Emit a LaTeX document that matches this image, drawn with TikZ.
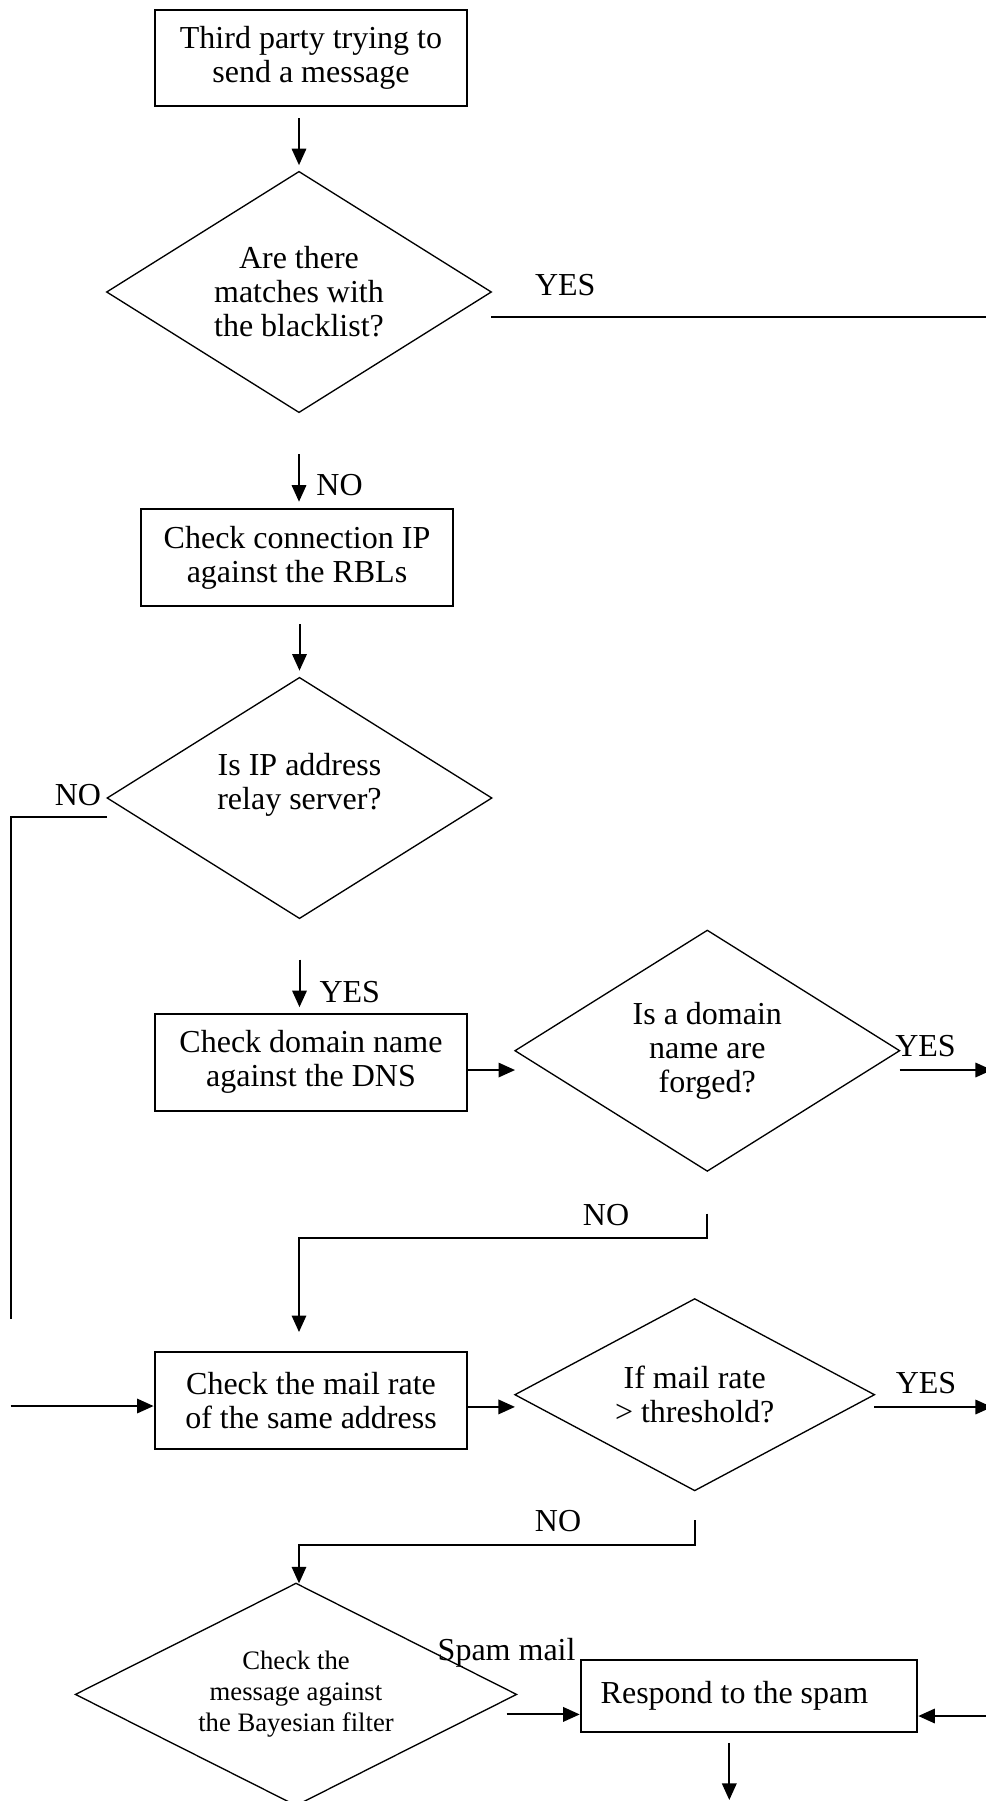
\documentclass[tikz,border=0pt]{standalone}
\usepackage{fontspec}
\setmainfont{Liberation Serif}
\usetikzlibrary{shapes.geometric,arrows.meta}
\tikzset{
	box/.style={draw, line width=.75pt, minimum width=117.3pt, minimum height=36.2pt, inner sep=0pt, align=center, font=\fontsize{12}{12.75}\selectfont},
	decision/.style={draw, diamond, line width=.5pt, inner sep=0pt, outer sep=0pt, shape aspect=1.6, minimum width=144.2pt, minimum height=90.3pt, align=center, font=\fontsize{12}{12.75}\selectfont},
	answer/.style={inner sep=0pt, anchor=base, font=\fontsize{12}{12.75}\selectfont},
	conn/.style={line width=.75pt},
	arr/.style={conn, -{Triangle[length=6.2pt, width=5.4pt]}}
}

\begin{document}
\begin{tikzpicture}[x=.375pt, y=-.375pt]
		\useasboundingbox (0,0) rectangle (985,1801);
		\node[box] (start) at (311,58) {Third party trying to\\send a message};
		\node[decision] (blacklist) at (299,292) {Are there\\matches with\\the blacklist?};
		\node[box] (rbl) at (297,557.4) {Check connection IP\\against the RBLs};
		\node[decision] (relay) at (299.5,798) {Is IP address\\relay server?\\~};
		\node[box] (dns) at (311,1062.3) {Check domain name\\against the DNS};
		\node[decision] (forged) at (707.3,1050.7) {Is a domain\\name are\\forged?};
		\node[box] (rate) at (311,1400.5) {Check the mail rate\\of the same address};
		\node[decision, shape aspect=1.87, minimum width=134.8pt, minimum height=71.9pt] (threshold) at (694.7,1394.7) {If mail rate\\> threshold?};
		\node[decision, shape aspect=2, minimum width=165.4pt, minimum height=83.3pt, font=\fontsize{10}{11.6}\selectfont] (bayes) at (296,1694.4) {Check the\\message against\\the Bayesian filter};
		\node[box, minimum width=0pt, minimum height=26.9pt, inner xsep=7.5pt, text width=111.2pt, align=flush left] (respond) at (749,1696) {Respond to the spam};
		\node[answer] (yes1) at (565.3,295.5) {YES};
		\node[answer] (no1) at (339.5,495) {NO};
		\node[answer] (no2) at (77.9,805) {NO};
		\node[answer] (yes2) at (349.8,1002.6) {YES};
		\node[answer] (yes3) at (925.5,1056) {YES};
		\node[answer] (no3) at (606,1225) {NO};
		\node[answer] (yes4) at (926,1393.6) {YES};
		\node[answer] (no4) at (558,1531.5) {NO};
		\node[answer] (spam) at (506.6,1660) {Spam mail};
		\coordinate (end1) at (992,317);
		\coordinate (end3) at (992,1070);
		\coordinate (end4) at (992,1407);
		\coordinate (end5) at (992,1716);
		\coordinate (bend2) at (10.7,816.6);
		\coordinate (stop2) at (10.7,1318.8);
		\coordinate (feed4) at (10.7,1406);
		\coordinate (bend3) at (299,1238.3);
		\coordinate (bend4) at (299,1545);
		\coordinate (out) at (729.3,1800);
		\draw[arr, shorten <=4.2pt, shorten >=2.4pt] (start.south -| blacklist.north) -- (blacklist.north);
		\draw[conn] (blacklist.east |- end1) -- (end1);
		\draw[arr, shorten <=15.6pt, shorten >=2.4pt] (blacklist.south) -- (blacklist.south |- rbl.north);
		\draw[arr, shorten <=6.5pt, shorten >=2.6pt] (rbl.south -| relay.north) -- (relay.north);
		\draw[conn] (relay.west |- bend2) -- (bend2) -- (stop2);
		\draw[arr] (feed4) -- (feed4 -| rate.west);
		\draw[arr, shorten <=15.5pt, shorten >=2.2pt] (relay.south) -- (relay.south |- dns.north);
		\draw[arr] ([yshift=-2.9pt]dns.east) -- ([yshift=-2.9pt]dns.east -| forged.west);
		\draw[arr] (forged.east |- end3) -- (end3);
		\draw[arr, shorten <=15.9pt, shorten >=7.2pt] (forged.south) -- (forged.south |- bend3) -- (bend3) -- (bend3 |- rate.north);
		\draw[arr] ([yshift=-2.4pt]rate.east) -- ([yshift=-2.4pt]rate.east -| threshold.west);
		\draw[arr] (threshold.east |- end4) -- (end4);
		\draw[arr, shorten <=11.1pt] (threshold.south) -- (threshold.south |- bend4) -- (bend4) -- (bend4 |- bayes.north);
		\draw[arr, shorten <=-3.75pt] ([yshift=-6.9pt]respond.west -| bayes.east) -- ([yshift=-6.9pt]respond.west);
		\draw[arr] (end5) -- (respond.east |- end5);
		\draw[arr, shorten <=3.75pt] (respond.south -| out) -- (out);
	\end{tikzpicture}
\end{document}
